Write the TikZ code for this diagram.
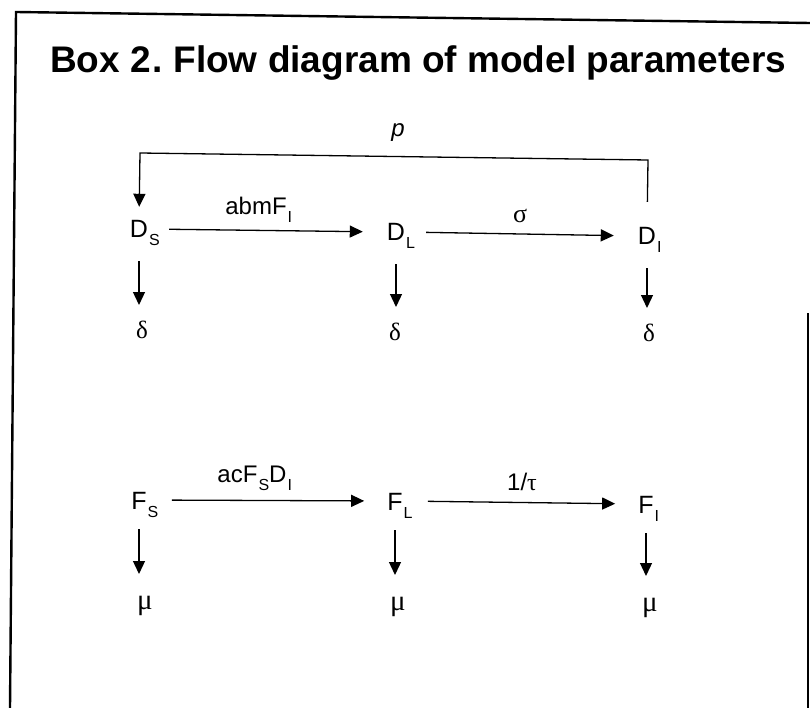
\documentclass[tikz,border=0pt]{standalone}
\usepackage{fontspec}
\setmainfont{Liberation Sans}
\newfontfamily\grk{Liberation Serif}
\usetikzlibrary{arrows.meta}
\newcommand\subtxt[1]{\rlap{\raisebox{-8pt}{\fontsize{16}{16}\selectfont\kern1pt #1}}}
\newcommand\subw[1]{\raisebox{-8pt}{\fontsize{16}{16}\selectfont\kern1pt #1}}
\begin{document}
\begin{tikzpicture}[x=1pt,y=-1pt,
  frame/.style={line width=2.4pt},
  arr/.style={line width=1.3pt,-{Triangle[length=13pt,width=12pt]}},
  var/.style={font=\fontsize{25}{25}\selectfont, inner sep=0pt, text height=18pt, text depth=0pt},
  rate/.style={font=\fontsize{24}{24}\selectfont, inner sep=0pt, anchor=base},
  loss/.style={font=\fontsize{25}{25}\selectfont\grk, inner sep=0pt, anchor=north},
  mloss/.style={font=\fontsize{29}{29}\selectfont\grk, inner sep=0pt, anchor=north},
  hdown/.style={arr, shorten <=23pt, shorten >=16pt},
  fdown/.style={arr, shorten <=20pt, shorten >=22pt},
]
\useasboundingbox (0,0) rectangle (810,708);
% frame
\draw[frame] (810,23) -- (16,12) -- (10,708);
\draw[frame] (808,313) -- (808,708);
% title
\node[anchor=base west, inner sep=0pt, font=\fontsize{37}{37}\selectfont\bfseries] (title) at (50,73) {Box 2\kern2pt.\ Flow diagram of model parameters};
% state nodes
\node[var] (ds) at (139,229) {D\subtxt{S}};
\node[var] (dl) at (396,232) {D\subtxt{L}};
\node[var] (di) at (647,236) {D\subtxt{I}};
\node[var] (fs) at (139,500) {F\subtxt{S}};
\node[var] (fl) at (395,501) {F\subtxt{L}};
\node[var] (fi) at (646,504) {F\subtxt{I}};
% loss nodes
\node[loss] (dsd) at (142,321) {δ};
\node[loss] (dld) at (395,323) {δ};
\node[loss] (did) at (649,324) {δ};
\node[mloss] (fsm) at (145,596) {μ};
\node[mloss] (flm) at (398,597) {μ};
\node[mloss] (fim) at (650,598) {μ};
% rate labels
\node[rate] (lp) at (398,137) {\itshape p};
\node[rate] (l1) at (256,215) {abmF\subtxt{I}};
\node[rate] (l2) at (520,223) {\fontsize{26}{26}\selectfont\grk σ};
\node[rate] (l3) at (252,482) {acF\subw{S}D\subtxt{I}};
\node[rate] (l4) at (522,490) {1/{\grk τ}};
% feedback
\coordinate (fbR) at (648,160);
\coordinate (fbL) at (140,153);
\draw[arr, shorten <=25pt, shorten >=13pt] (di.north) -- (fbR) -- (fbL) -- (ds.north);
% horizontal flows
\draw[arr, shorten <=21pt, shorten >=24pt] (ds.east) -- (dl.west);
\draw[arr, shorten <=21pt, shorten >=24pt] (dl.east) -- (di.west);
\draw[arr, shorten <=25pt, shorten >=23pt] (fs.east) -- (fl.west);
\draw[arr, shorten <=25pt, shorten >=23pt] (fl.east) -- (fi.west);
% losses
\draw[hdown] (ds.south) -- (ds.south |- dsd.north);
\draw[hdown] (dl.south) -- (dl.south |- dld.north);
\draw[hdown] (di.south) -- (di.south |- did.north);
\draw[fdown] (fs.south) -- (fs.south |- fsm.north);
\draw[fdown] (fl.south) -- (fl.south |- flm.north);
\draw[fdown] (fi.south) -- (fi.south |- fim.north);
\end{tikzpicture}
\end{document}
